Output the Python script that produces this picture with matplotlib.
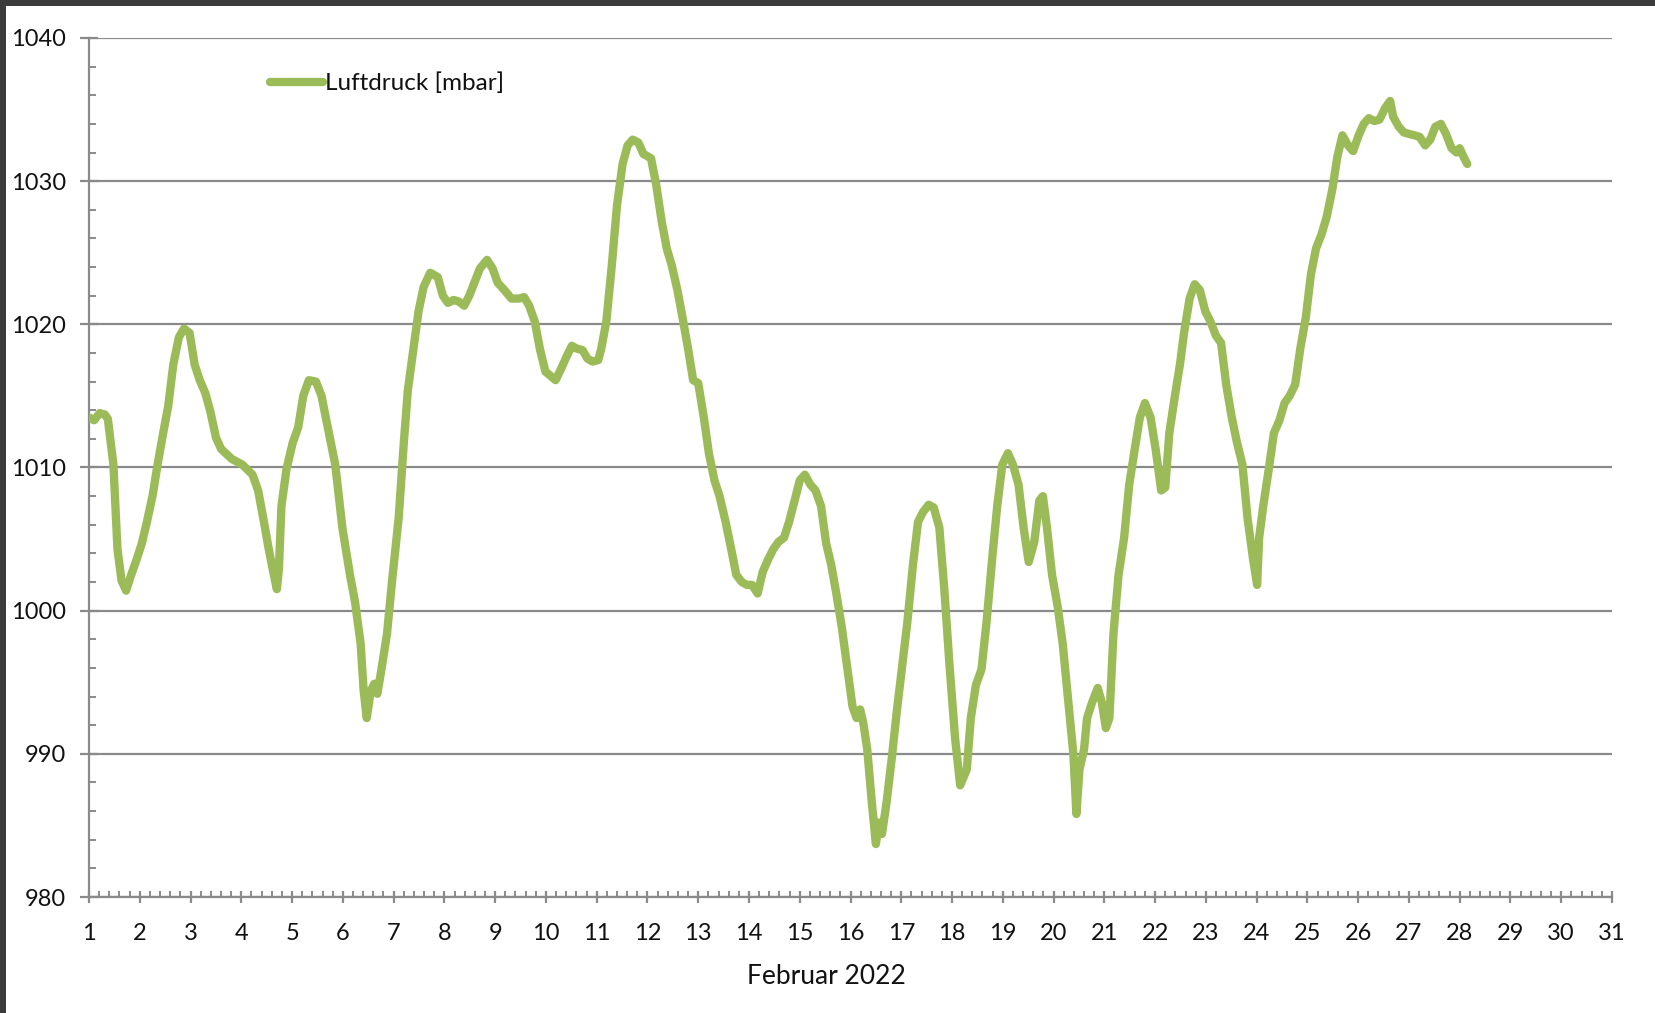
import matplotlib
matplotlib.use('Agg')
import matplotlib.pyplot as plt
import matplotlib.patches as patches
from matplotlib.ticker import MultipleLocator

# Luftdruck Februar 2022, Tag (dezimal) und Wert in mbar
days = [1.00, 1.10, 1.21, 1.31, 1.37, 1.48, 1.56, 1.64, 1.73, 1.83, 1.94, 2.04, 2.14, 2.25, 2.35,
        2.46, 2.56, 2.66, 2.77, 2.87, 2.98, 3.08, 3.18, 3.29, 3.39, 3.50, 3.60, 3.81, 4.02, 4.22,
        4.33, 4.43, 4.54, 4.64, 4.70, 4.74, 4.79, 4.89, 5.01, 5.12, 5.22, 5.33, 5.47, 5.58, 5.68,
        5.85, 5.99, 6.14, 6.24, 6.35, 6.41, 6.47, 6.55, 6.62, 6.68, 6.76, 6.87, 6.97, 7.10, 7.20,
        7.28, 7.39, 7.49, 7.59, 7.72, 7.87, 7.97, 8.07, 8.18, 8.28, 8.39, 8.49, 8.59, 8.70, 8.84,
        8.95, 9.05, 9.18, 9.32, 9.47, 9.57, 9.67, 9.78, 9.88, 9.99, 10.09, 10.19, 10.30, 10.40, 10.51,
        10.61, 10.72, 10.82, 10.92, 11.03, 11.09, 11.19, 11.30, 11.40, 11.51, 11.61, 11.71, 11.82, 11.92, 12.07,
        12.17, 12.28, 12.38, 12.48, 12.59, 12.69, 12.80, 12.90, 13.00, 13.11, 13.21, 13.32, 13.42, 13.54, 13.65,
        13.75, 13.86, 13.96, 14.06, 14.17, 14.27, 14.38, 14.48, 14.58, 14.69, 14.79, 14.90, 15.00, 15.10, 15.21,
        15.31, 15.42, 15.52, 15.62, 15.73, 15.83, 15.94, 16.04, 16.12, 16.19, 16.25, 16.33, 16.42, 16.50, 16.56,
        16.62, 16.71, 16.81, 16.91, 17.02, 17.12, 17.23, 17.33, 17.43, 17.54, 17.64, 17.75, 17.85, 17.95, 18.06,
        18.16, 18.22, 18.29, 18.37, 18.47, 18.58, 18.68, 18.79, 18.89, 18.99, 19.10, 19.20, 19.31, 19.41, 19.51,
        19.62, 19.72, 19.79, 19.87, 19.97, 20.08, 20.18, 20.28, 20.39, 20.45, 20.51, 20.60, 20.66, 20.76, 20.87,
        20.95, 21.03, 21.10, 21.18, 21.28, 21.39, 21.49, 21.60, 21.70, 21.80, 21.91, 22.01, 22.12, 22.20, 22.28,
        22.39, 22.49, 22.57, 22.68, 22.78, 22.88, 22.99, 23.09, 23.20, 23.30, 23.40, 23.51, 23.61, 23.72, 23.82,
        23.93, 24.01, 24.05, 24.13, 24.24, 24.34, 24.45, 24.55, 24.65, 24.76, 24.86, 24.97, 25.07, 25.17, 25.28,
        25.38, 25.49, 25.59, 25.69, 25.80, 25.90, 26.01, 26.11, 26.21, 26.32, 26.42, 26.53, 26.63, 26.69, 26.80,
        26.90, 27.00, 27.11, 27.21, 27.32, 27.42, 27.52, 27.63, 27.73, 27.84, 27.94, 28.00, 28.09, 28.15]

pressure = [1013.5, 1013.3, 1013.8, 1013.7, 1013.4, 1010.2, 1004.3, 1002.1, 1001.4, 1002.5, 1003.6, 1004.7, 1006.2, 1008.0, 1010.2,
            1012.4, 1014.3, 1017.2, 1019.1, 1019.7, 1019.4, 1017.2, 1016.1, 1015.2, 1013.9, 1012.1, 1011.3, 1010.6, 1010.2, 1009.5,
            1008.4, 1006.5, 1004.3, 1002.5, 1001.5, 1002.9, 1007.3, 1009.9, 1011.7, 1012.8, 1015.0, 1016.1, 1016.0, 1015.0, 1013.2,
            1010.2, 1005.8, 1002.5, 1000.6, 997.7, 994.4, 992.5, 994.4, 994.9, 994.2, 995.9, 998.4, 1002.1, 1006.5, 1011.7,
            1015.4, 1018.3, 1020.9, 1022.6, 1023.6, 1023.3, 1022.0, 1021.5, 1021.7, 1021.6, 1021.3, 1022.0, 1022.9, 1023.9, 1024.5,
            1023.9, 1022.9, 1022.4, 1021.8, 1021.8, 1021.9, 1021.3, 1020.2, 1018.3, 1016.7, 1016.4, 1016.1, 1016.9, 1017.7, 1018.5,
            1018.3, 1018.2, 1017.6, 1017.4, 1017.5, 1018.3, 1020.2, 1024.2, 1028.3, 1031.2, 1032.5, 1032.9, 1032.7, 1031.9, 1031.6,
            1029.8, 1027.2, 1025.3, 1024.1, 1022.4, 1020.5, 1018.3, 1016.1, 1015.9, 1013.5, 1011.0, 1009.1, 1008.0, 1006.2, 1004.3,
            1002.5, 1002.0, 1001.8, 1001.8, 1001.2, 1002.7, 1003.6, 1004.3, 1004.8, 1005.1, 1006.2, 1007.7, 1009.1, 1009.5, 1008.8,
            1008.4, 1007.3, 1004.7, 1003.2, 1001.0, 998.8, 995.9, 993.3, 992.5, 993.1, 992.2, 990.3, 986.6, 983.7, 985.2,
            984.4, 986.6, 989.6, 992.9, 996.2, 999.2, 1003.2, 1006.2, 1006.9, 1007.4, 1007.2, 1005.8, 1001.4, 996.2, 991.1,
            987.8, 988.3, 988.9, 992.5, 994.8, 995.9, 999.2, 1003.6, 1007.3, 1010.2, 1011.0, 1010.2, 1008.8, 1005.8, 1003.4,
            1004.8, 1007.7, 1008.0, 1005.8, 1002.5, 1000.3, 997.7, 994.0, 990.0, 985.8, 988.9, 990.3, 992.5, 993.6, 994.6,
            993.6, 991.8, 992.5, 998.4, 1002.5, 1005.1, 1008.8, 1011.3, 1013.5, 1014.5, 1013.5, 1011.3, 1008.4, 1008.6, 1012.4,
            1015.0, 1017.2, 1019.4, 1021.8, 1022.8, 1022.4, 1020.9, 1020.2, 1019.2, 1018.7, 1015.8, 1013.5, 1011.8, 1010.2, 1006.5,
            1003.6, 1001.8, 1005.1, 1007.3, 1009.9, 1012.4, 1013.3, 1014.5, 1015.0, 1015.8, 1018.3, 1020.5, 1023.5, 1025.3, 1026.3,
            1027.5, 1029.4, 1031.7, 1033.2, 1032.5, 1032.1, 1033.2, 1034.0, 1034.4, 1034.2, 1034.3, 1035.1, 1035.6, 1034.5, 1033.8,
            1033.4, 1033.3, 1033.2, 1033.1, 1032.5, 1032.9, 1033.8, 1034.0, 1033.3, 1032.3, 1032.0, 1032.3, 1031.6, 1031.2]

x_ticks = list(range(1, 32))
y_ticks = [980, 990, 1000, 1010, 1020, 1030, 1040]

plt.rcParams['font.family'] = ['Lato', 'DejaVu Sans']

axis_grey = '#8a8a8a'
text_col = '#111111'
line_col = '#9bbb59'

fig = plt.figure(figsize=(16.55, 10.13), dpi=100)
ax = fig.add_axes([0.0538, 0.1145, 0.9202, 0.848])

ax.plot(days, pressure, color=line_col, linewidth=6, solid_capstyle='round',
        solid_joinstyle='round', label='Luftdruck [mbar]', zorder=3)

ax.set_xlim(1, 31)
ax.set_ylim(980, 1040)
ax.set_xticks(x_ticks)
ax.set_yticks(y_ticks)
ax.xaxis.set_minor_locator(MultipleLocator(0.2))
ax.yaxis.set_minor_locator(MultipleLocator(2))

# horizontale Gitterlinien
ax.grid(axis='y', which='major', color=axis_grey, linewidth=1.6, zorder=1)
ax.set_axisbelow(True)

for side in ['top', 'right']:
    ax.spines[side].set_visible(False)
for side in ['left', 'bottom']:
    ax.spines[side].set_color(axis_grey)
    ax.spines[side].set_linewidth(1.6)

ax.tick_params(axis='x', which='major', direction='inout', length=9, width=1.6,
               color=axis_grey, pad=14.5, labelsize=17, labelcolor=text_col)
ax.tick_params(axis='x', which='minor', direction='in', length=4.5, width=1.4, color=axis_grey)
ax.tick_params(axis='y', which='major', direction='inout', length=13, width=1.6,
               color=axis_grey, pad=10, labelsize=17, labelcolor=text_col)
ax.tick_params(axis='y', which='minor', direction='in', length=5, width=1.4, color=axis_grey)

fig.text(0.4995, 0.0285, 'Februar 2022', ha='center', va='baseline', fontsize=19, color=text_col)

ax.legend(loc='center left', bbox_to_anchor=(0.157, 0.9175), bbox_transform=fig.transFigure,
          frameon=False, fontsize=17.5, handlelength=2.2, handletextpad=0.1,
          labelcolor=text_col, borderaxespad=0)

# dunkler Rahmen oben und links (Bildschirmausschnitt)
fig.patches.append(patches.Rectangle((0, 1 - 6 / 1013), 1, 6 / 1013, transform=fig.transFigure,
                                     facecolor='#3c3c3c', edgecolor='none', zorder=10))
fig.patches.append(patches.Rectangle((0, 0), 6 / 1655, 1, transform=fig.transFigure,
                                     facecolor='#3c3c3c', edgecolor='none', zorder=10))

fig.savefig('out.png', dpi=100, facecolor='white')
